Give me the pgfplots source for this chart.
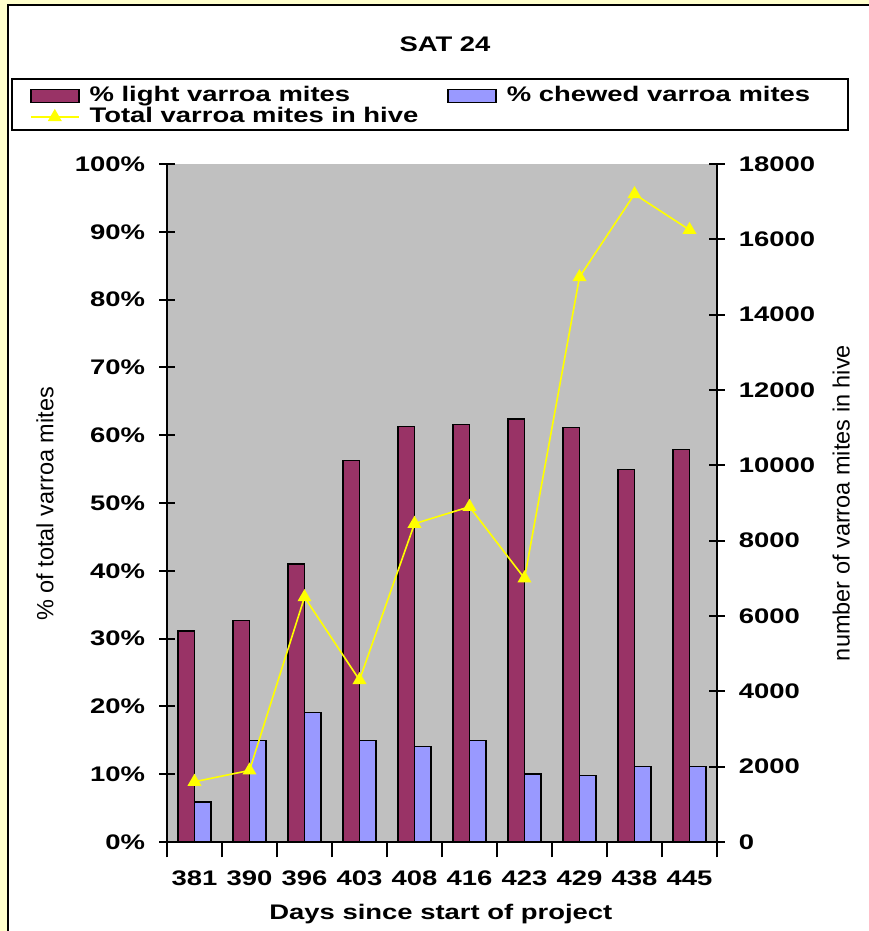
\documentclass[border=0pt]{standalone}
\usepackage{fontspec}
\usepackage{pgfplots}
\pgfplotsset{compat=1.18}
\newfontfamily\wb[FakeStretch=1.3]{Liberation Sans Bold}
\newfontfamily\rg{Liberation Sans}
\newcommand\boldtxt{\wb\fontsize{21.1}{25}\selectfont}
\newcommand\labeltxt{\rg\fontsize{23.5}{27}\selectfont}
\definecolor{lightmite}{HTML}{993366}
\definecolor{chewmite}{HTML}{9999FF}
\definecolor{plotgray}{HTML}{C0C0C0}
\definecolor{frameyellow}{HTML}{FFFFCC}
\definecolor{linemite}{HTML}{FFFF00}

\pgfplotsset{
  tri legend/.style={legend image code/.code={%
    \draw[mark repeat=2, mark phase=2, ##1] plot coordinates {(0pt,0pt) (24pt,0pt) (48pt,0pt)};}},
  swatch/.style={legend image code/.code={%
    \draw[line width=1.5pt, fill=#1] (0pt,-6.5pt) rectangle (48pt,6.5pt);}},
}

% idx: category position; light/chewed in percent; total = mites in hive
\pgfplotstableread{
idx light chewed total
0 31.1 5.9 1600
1 32.7 15.0 1900
2 41.0 19.1 6500
3 56.3 15.0 4300
4 61.3 14.1 8450
5 61.6 15.0 8900
6 62.4 10.0 7000
7 61.1 9.8 15000
8 54.9 11.1 17200
9 57.9 11.1 16250
}\mites

\begin{document}
\begin{tikzpicture}[x=1pt,y=1pt]
\useasboundingbox (0,0) rectangle (869,931);
\fill[frameyellow] (0,0) rectangle (869,931);
\draw[line width=2pt, fill=white] (8,-20) rectangle (890,926);
\draw[line width=1.5pt, fill=white] (12,852) rectangle (848,801);

\pgfplotsset{
  common/.style={
    at={(167pt,89pt)}, anchor=south west,
    width=550pt, height=678pt, scale only axis,
    xmin=-0.5, xmax=9.5,
    tick align=center, major tick length=15.5pt,
    axis line style={line width=2pt, black},
    tick style={line width=2pt, black},
    tick label style={font=\boldtxt, inner sep=0pt},
    /pgf/number format/assume math mode=true,
  },
}

\begin{axis}[common,
  ymin=0, ymax=100,
  axis x line*=bottom, axis y line*=left,
  axis background/.style={fill=plotgray},
  ybar=0pt, bar width=16.6pt,
  xtick={-0.5,0.5,...,9.5},
  xticklabels={381,390,396,403,408,416,423,429,438,445,{}},
  xticklabel style={anchor=center, xshift=27.5pt, yshift=-21pt},
  ytick={0,10,...,100},
  yticklabels={0\%,10\%,20\%,30\%,40\%,50\%,60\%,70\%,80\%,90\%,100\%},
  yticklabel style={anchor=east, xshift=-14pt},
  xlabel={Days since start of project},
  xlabel style={font=\boldtxt, at={(axis description cs:0.498,-0.1062)}, anchor=center},
  ylabel={\% of total varroa mites},
  ylabel style={font=\labeltxt, at={(axis description cs:-0.2218,0.4985)}, anchor=center},
  title={SAT 24},
  title style={font=\boldtxt, at={(axis description cs:0.5055,1.168)}, anchor=center},
]
\addplot[draw=black, line width=1.4pt, fill=lightmite] table[x=idx, y=light] {\mites};
\addplot[draw=black, line width=1.4pt, fill=chewmite] table[x=idx, y=chewed] {\mites};
\end{axis}

\begin{axis}[common,
  ymin=0, ymax=18000,
  scaled y ticks=false,
  axis x line=none, axis y line*=right,
  ytick={0,2000,...,18000},
  yticklabels={0,2000,4000,6000,8000,10000,12000,14000,16000,18000},
  yticklabel style={anchor=west, xshift=14pt},
  ylabel={number of varroa mites in hive},
  ylabel style={font=\labeltxt, at={(axis description cs:1.226,0.5)}, anchor=center},
  legend columns=2,
  legend style={draw=none, fill=none, inner sep=0pt, outer sep=0pt,
    at={(axis description cs:-0.24909,1.1143)}, anchor=north west,
    nodes={font=\boldtxt, inner sep=0pt, text height=15pt, text depth=4pt},
    row sep=2pt,
    /tikz/every odd column/.append style={column sep=10pt},
    /tikz/every even column/.append style={column sep=29pt}},
  legend cell align=left,
]
\addlegendimage{swatch=lightmite}
\addlegendimage{swatch=chewmite}
\addplot[linemite, line width=1.6pt, mark=triangle*, mark size=6.5pt,
  mark options={fill=linemite, draw=linemite}, tri legend]
  table[x=idx, y=total] {\mites};
\legend{\% light varroa mites, \% chewed varroa mites, Total varroa mites in hive}
\end{axis}
\end{tikzpicture}
\end{document}
